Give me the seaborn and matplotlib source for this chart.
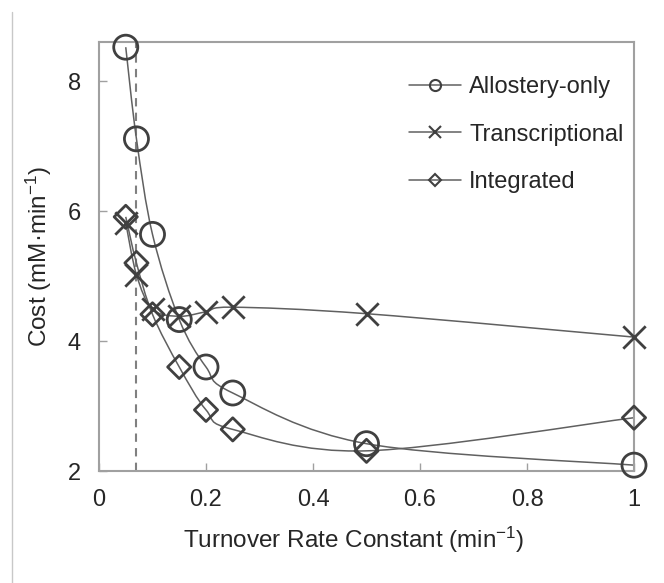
import numpy as np
import pandas as pd
import seaborn as sns

from matplotlib import pyplot as plt
from matplotlib.lines import Line2D
from matplotlib.path import Path
from matplotlib.patches import PathPatch

# Werte
rate = [0.05, 0.07, 0.1, 0.15, 0.2, 0.25, 0.5, 1.0]
allostery = [8.52, 7.11, 5.64, 4.33, 3.60, 3.20, 2.42, 2.09]
transcriptional = [5.82, 5.02, 4.49, 4.38, 4.45, 4.52, 4.42, 4.06]
integrated = [5.91, 5.20, 4.41, 3.60, 2.94, 2.64, 2.31, 2.82]
series_names = ['Allostery-only', 'Transcriptional', 'Integrated']
x_ticks = [0, 0.2, 0.4, 0.6, 0.8, 1]
y_ticks = [2, 4, 6, 8]
threshold = 0.07

df = pd.DataFrame({
    'rate': rate * 3,
    'cost': allostery + transcriptional + integrated,
    'series': [n for n in series_names for _ in rate],
})

sns.set_theme(style='white')
plt.rcParams['font.family'] = ['Liberation Sans', 'DejaVu Sans']
plt.rcParams['mathtext.fontset'] = 'custom'
plt.rcParams['mathtext.rm'] = 'Liberation Sans'
plt.rcParams['mathtext.it'] = 'Liberation Sans'

dark = '#404040'
line_col = '#606060'
spine_col = '#a0a0a0'
text_col = '#262626'


def smooth_path(xs, ys):
    # geglaettete Linie wie in Excel (Bezier-Segmente durch die Punkte)
    p = np.column_stack([xs, ys])
    n = len(p)
    verts = [p[0]]
    codes = [Path.MOVETO]
    for i in range(n - 1):
        p_prev = p[i - 1] if i > 0 else p[i]
        p_next2 = p[i + 2] if i + 2 < n else p[i + 1]
        c1 = p[i] + (p[i + 1] - p_prev) / 6
        c2 = p[i + 1] - (p_next2 - p[i]) / 6
        verts += [c1, c2, p[i + 1]]
        codes += [Path.CURVE4] * 3
    return Path(verts, codes)


fig = plt.figure(figsize=(6.64, 5.83), dpi=100)
ax = fig.add_axes([99 / 664, 1 - 471 / 583, 535 / 664, 429 / 583])

ax.axvline(threshold, color='#808080', lw=1.5, ls=(0, (4, 3)), zorder=1)

for name in series_names:
    sub = df[df['series'] == name]
    ax.add_patch(PathPatch(smooth_path(sub['rate'], sub['cost']),
                           facecolor='none', edgecolor=line_col, lw=1.1, zorder=2))

sub = df[df['series'] == 'Allostery-only']
sns.scatterplot(data=sub, x='rate', y='cost', marker='o', s=300,
                facecolor='none', edgecolor=dark, linewidth=2, ax=ax,
                zorder=3, clip_on=False)
sub = df[df['series'] == 'Transcriptional']
sns.scatterplot(data=sub, x='rate', y='cost', marker='x', s=260,
                color=dark, linewidth=2, ax=ax, zorder=3, clip_on=False)
sub = df[df['series'] == 'Integrated']
sns.scatterplot(data=sub, x='rate', y='cost', marker='D', s=140,
                facecolor='none', edgecolor=dark, linewidth=2, ax=ax,
                zorder=3, clip_on=False)

ax.set_xlim(0, 1)
ax.set_ylim(2, 8.6)
ax.set_xticks(x_ticks)
ax.set_xticklabels(['0', '0.2', '0.4', '0.6', '0.8', '1'])
ax.set_yticks(y_ticks)
ax.tick_params(direction='in', length=6, width=1, color=spine_col,
               labelsize=17, labelcolor=text_col, pad=13,
               bottom=True, left=True)
for s in ax.spines.values():
    s.set_color(spine_col)
    s.set_linewidth(1.5)

ax.set_xlabel('Turnover Rate Constant (min$^{\\mathregular{-1}}$)',
              fontsize=17.5, color=text_col)
ax.xaxis.set_label_coords(0.477, -0.125)
ax.set_ylabel('Cost (mM\u00b7min$^{\\mathregular{-1}}$)',
              fontsize=17.5, color=text_col, labelpad=10)

handles = [
    Line2D([], [], color=line_col, lw=1.1, marker='o', ms=8,
           mfc='none', mec=dark, mew=1.5),
    Line2D([], [], color=line_col, lw=1.1, marker='x', ms=8,
           mec=dark, mew=1.5),
    Line2D([], [], color=line_col, lw=1.1, marker='D', ms=6,
           mfc='none', mec=dark, mew=1.5),
]
ax.legend(handles, series_names, loc='upper right', frameon=False,
          fontsize=17, handlelength=2.2, labelspacing=1.08,
          handletextpad=0.35, bbox_to_anchor=(1.02, 0.97))

fig.add_artist(Line2D([12 / 664, 12 / 664], [0, 1 - 12 / 583],
                      transform=fig.transFigure, color='#c8c8c8', lw=1))

fig.savefig('out.png', dpi=100)
